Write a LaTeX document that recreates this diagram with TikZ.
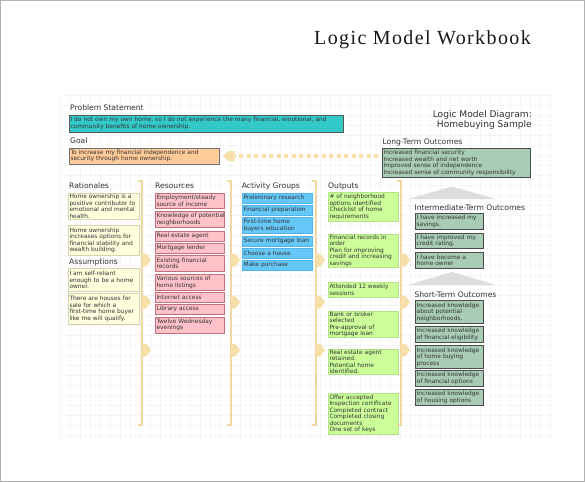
\documentclass[tikz,border=0pt]{standalone}
\usepackage{fontspec}
\setmainfont{DejaVu Sans}
\newfontfamily\titlefont[LetterSpace=7]{Liberation Serif}
\usetikzlibrary{arrows.meta}
\definecolor{txt}{HTML}{333333}
\definecolor{tealf}{HTML}{33C9C9}
\definecolor{orangef}{HTML}{FFCC99}
\definecolor{ocf}{HTML}{A8CCB5}
\definecolor{ratf}{HTML}{FFFFDD}
\definecolor{ratd}{HTML}{D6D6AE}
\definecolor{resf}{HTML}{FFC2C8}
\definecolor{resd}{HTML}{C4707C}
\definecolor{actf}{HTML}{66C8F8}
\definecolor{actd}{HTML}{52B2EA}
\definecolor{outf}{HTML}{CCFF99}
\definecolor{outd}{HTML}{B2E488}
\definecolor{tanline}{HTML}{F0D8A0}
\definecolor{tanfill}{HTML}{F6DFA8}
\definecolor{grayarrow}{HTML}{DDDDDD}
\definecolor{gridc}{HTML}{F5F5F5}
\begin{document}
\hyphenpenalty=10000
\exhyphenpenalty=10000
\begin{tikzpicture}[x=1pt,y=-1pt,
  lbl/.style={anchor=base west, inner sep=0pt, font=\fontsize{7.6}{9}\selectfont, text=txt},
  bx/.style={draw, anchor=north west, inner xsep=1.2pt, inner ysep=0.5pt, align=left,
     font=\fontsize{5.9}{6.5}\selectfont, text=txt, line width=0.6pt},
  probbox/.style={bx, fill=tealf, draw=black!65, text width=271.6pt},
  goalbox/.style={bx, fill=orangef, draw=black!55, text width=147.6pt},
  ltbox/.style={bx, fill=ocf, draw=black!70, line width=0.9pt, text width=145.6pt},
  ocbox/.style={bx, fill=ocf, draw=black!70, line width=0.9pt, text width=65.6pt},
  ratbox/.style={bx, fill=ratf, draw=ratd, text width=68.6pt},
  resbox/.style={bx, fill=resf, draw=resd, text width=66.6pt},
  actbox/.style={bx, fill=actf, draw=actd, text width=67.6pt},
  outbox/.style={bx, fill=outf, draw=outd, text width=67.6pt},
  bracket/.style={draw=tanline, line width=1.1pt},
  chev/.pic={\fill[tanfill] (0,-6.5) -- (4,-6.5) -- (9,0) -- (4,6.5) -- (0,6.5) -- cycle;},
  dashline/.style={draw=tanfill, line width=4pt, dash pattern=on 4pt off 3.5pt}
]
\useasboundingbox (0,0) rectangle (585,482);
\fill[white] (0,0) rectangle (585,482);
% faint grid
\foreach \gx in {60,70,...,550} {\draw[gridc, line width=0.4pt] (\gx,95) -- (\gx,440);}
\foreach \gy in {95,105,...,440} {\draw[gridc, line width=0.4pt] (60,\gy) -- (550,\gy);}
\draw[black!30, line width=0.8pt] (0.4,0.4) rectangle (584.6,481.6);

% titles
\node[anchor=base west, inner sep=0pt, text=black!90] (title) at (314,44) {\titlefont\fontsize{20}{22}\selectfont Logic Model Workbook};
\node[anchor=base east, inner sep=0pt, text=txt, font=\fontsize{9.1}{11}\selectfont] (sub1) at (532,117) {Logic Model Diagram:};
\node[anchor=base east, inner sep=0pt, text=txt, font=\fontsize{9.1}{11}\selectfont] (sub2) at (532,127.5) {Homebuying Sample};

% labels
\node[lbl] (lprob) at (70,110.5) {Problem Statement};
\node[lbl] (lgoal) at (70,143.8) {Goal};
\node[lbl] (llt) at (382.3,144) {Long-Term Outcomes};
\node[lbl] (lrat) at (69,188.5) {Rationales};
\node[lbl] (lass) at (69,264.5) {Assumptions};
\node[lbl] (lres) at (155,188.5) {Resources};
\node[lbl] (lact) at (241.7,188.5) {Activity Groups};
\node[lbl] (lout) at (328,188.5) {Outputs};
\node[lbl] (lit) at (414.3,210.5) {Intermediate-Term Outcomes};
\node[lbl] (lst) at (414.3,297.3) {Short-Term Outcomes};

% problem, goal, long term
\node[probbox, minimum height=16.5pt] (prob) at (69,115) {I do not own my own home, so I do not experience the many financial, emotional, and\\community benefits of home ownership.};
\node[goalbox, minimum height=15.5pt] (goal) at (69,148) {To increase my financial independence and\\security through home ownership.};
\node[ltbox, minimum height=29pt] (lt) at (382,148) {Increased financial security\\Increased wealth and net worth\\Improved sense of independence\\Increased sense of community responsibility};

% goal arrow
\draw[dashline] ([xshift=-4pt]lt.west |- goal.east) -- ([xshift=15pt]goal.east);
\fill[tanfill] ([xshift=3pt]goal.east) -- ++(6,-5) -- ++(6,0) -- ++(0,10) -- ++(-6,0) -- cycle;

% rationales & assumptions
\node[ratbox, minimum height=26pt] (r1) at (68,193) {Home ownership is a\\positive contributor to\\emotional and mental\\health.};
\node[ratbox, minimum height=30pt] (r2) at (68,225) {Home ownership\\increases options for\\financial stability and\\wealth building.};
\node[ratbox, minimum height=23pt] (a1) at (68,268) {I am self-reliant\\enough to be a home\\owner.};
\node[ratbox, minimum height=31pt] (a2) at (68,293) {There are houses for\\sale for which a\\first-time home buyer\\like me will qualify.};

% resources
\node[resbox, minimum height=15pt] (s1) at (155,193) {Employment/steady\\source of income};
\node[resbox, minimum height=16pt] (s2) at (155,211) {\mbox{Knowledge of potential}\\neighborhoods};
\node[resbox, minimum height=9.5pt] (s3) at (155,231) {Real estate agent};
\node[resbox, minimum height=9.5pt] (s4) at (155,243) {Mortgage lender};
\node[resbox, minimum height=16pt] (s5) at (155,255) {Existing financial\\records};
\node[resbox, minimum height=16pt] (s6) at (155,274) {Various sources of\\home listings};
\node[resbox, minimum height=9.5pt] (s7) at (155,292) {Internet access};
\node[resbox, minimum height=9.5pt] (s8) at (155,304) {Library access};
\node[resbox, minimum height=15.5pt] (s9) at (155,317) {Twelve Wednesday\\evenings};

% activities
\node[actbox, minimum height=9.5pt] (g1) at (242,193) {Preliminary research};
\node[actbox, minimum height=9.5pt] (g2) at (242,205) {Financial preparation};
\node[actbox, minimum height=16pt] (g3) at (242,217) {First-time home\\buyers education};
\node[actbox, minimum height=9.5pt] (g4) at (242,236) {\mbox{Secure mortgage loan}};
\node[actbox, minimum height=9.5pt] (g5) at (242,248) {Choose a house};
\node[actbox, minimum height=9.5pt] (g6) at (242,260) {Make purchase};

% outputs
\node[outbox, minimum height=29pt] (o1) at (328,192) {\# of neighborhood\\options identified\\Checklist of home\\requirements};
\node[outbox, minimum height=33pt] (o2) at (328,234) {Financial records in\\order\\Plan for improving\\credit and increasing\\savings};
\node[outbox, minimum height=15pt] (o3) at (328,282) {Attended 12 weekly\\sessions};
\node[outbox, minimum height=26pt] (o4) at (328,311) {Bank or broker\\selected\\Pre-approval of\\mortgage loan};
\node[outbox, minimum height=25pt] (o5) at (328,349) {Real estate agent\\retained.\\Potential home\\identified.};
\node[outbox, minimum height=41pt] (o6) at (328,393) {Offer accepted\\Inspection certificate\\Completed contract\\Completed closing\\documents\\One set of keys};

% intermediate outcomes
\node[ocbox, minimum height=15.5pt] (i1) at (415,213) {I have increased my\\savings.};
\node[ocbox, minimum height=15.5pt] (i2) at (415,232.5) {I have improved my\\credit rating.};
\node[ocbox, minimum height=16pt] (i3) at (415,252) {I have become a\\home owner};

% short-term outcomes
\node[ocbox, minimum height=23pt] (t1) at (415,300) {Increased knowledge\\about potential\\neighborhoods.};
\node[ocbox, minimum height=15.5pt] (t2) at (415,326) {Increased knowledge\\of financial eligibility};
\node[ocbox, minimum height=23pt] (t3) at (415,345) {Increased knowledge\\of home buying\\process};
\node[ocbox, minimum height=16pt] (t4) at (415,370) {Increased knowledge\\of financial options};
\node[ocbox, minimum height=16pt] (t5) at (415,389) {Increased knowledge\\of housing options};

% gray upward arrows
\fill[grayarrow] (452,186.5) -- (496,199) -- (408,199) -- cycle;
\fill[grayarrow] (452,272) -- (496,285) -- (408,285) -- cycle;

% brackets
\foreach \bx in {142,231,316,401} {
  \draw[bracket] (\bx-4,181) -- (\bx,181) -- (\bx,425) -- (\bx-4,425);
  \foreach \by in {260,302,350} {\pic at (\bx,\by) {chev};}
}
\end{tikzpicture}
\end{document}
